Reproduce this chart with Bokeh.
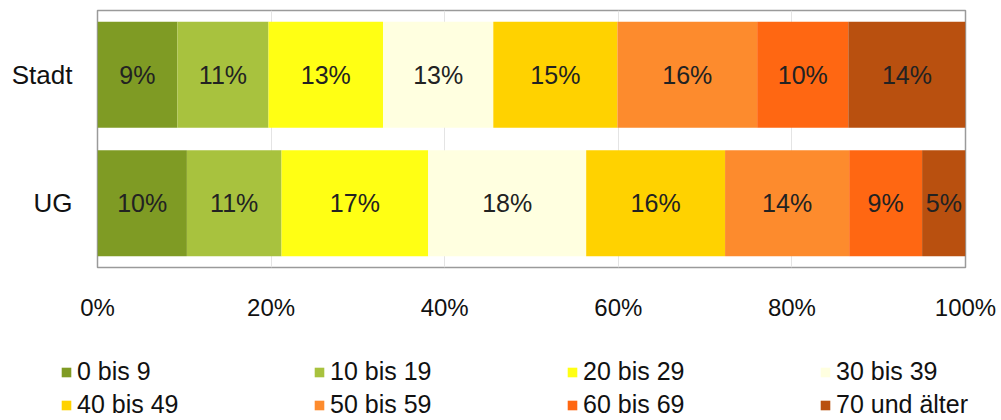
from bokeh.plotting import figure
from bokeh.layouts import column, row
from bokeh.models import ColumnDataSource, Legend, LegendItem, FixedTicker, Range1d, FactorRange
from bokeh.embed import file_html
from bokeh.resources import INLINE
from bokeh.core.properties import value

# ---- data ----
categories = ["UG", "Stadt"]
age_groups = ["0 bis 9", "10 bis 19", "20 bis 29", "30 bis 39",
              "40 bis 49", "50 bis 59", "60 bis 69", "70 und älter"]
stadt_values = [9.2, 10.5, 13.2, 12.7, 14.3, 16.1, 10.5, 13.5]
ug_values = [10.3, 10.9, 16.9, 18.2, 16.0, 14.3, 8.4, 5.0]
stadt_labels = ["9%", "11%", "13%", "13%", "15%", "16%", "10%", "14%"]
ug_labels = ["10%", "11%", "17%", "18%", "16%", "14%", "9%", "5%"]
colors = ["#7f9b24", "#a8c23e", "#ffff14", "#ffffe0",
          "#ffd200", "#fd8b2d", "#ff6712", "#b9500f"]
x_ticks = [0, 20, 40, 60, 80, 100]
x_tick_labels = ["0%", "20%", "40%", "60%", "80%", "100%"]

FONT = "Liberation Sans"

keys = [f"g{i}" for i in range(len(age_groups))]
data = {"cat": categories}
for i, k in enumerate(keys):
    data[k] = [ug_values[i], stadt_values[i]]
src = ColumnDataSource(data)

p = figure(width=1001, height=330, output_backend="svg", toolbar_location=None,
           y_range=FactorRange(*categories, range_padding=0), x_range=Range1d(0, 100),
           min_border_left=97, min_border_right=36, min_border_top=10, min_border_bottom=63)

renderers = p.hbar_stack(keys, y="cat", height=0.825, color=colors, line_color=None, source=src)

# segment labels
lx, ly, lt = [], [], []
for cat, vals, labs in (("Stadt", stadt_values, stadt_labels), ("UG", ug_values, ug_labels)):
    left = 0.0
    for v, t in zip(vals, labs):
        lx.append(left + v / 2)
        ly.append(cat)
        lt.append(t)
        left += v
lsrc = ColumnDataSource(dict(x=lx, y=ly, t=lt))
p.text(x="x", y="y", text="t", source=lsrc, text_align="center", text_baseline="middle",
       text_font=value(FONT), text_font_size="25px", text_color="#222222")

# axes
p.xaxis.ticker = FixedTicker(ticks=x_ticks)
p.xaxis.major_label_overrides = {t: l for t, l in zip(x_ticks, x_tick_labels)}
for ax in (p.xaxis[0], p.yaxis[0]):
    ax.axis_line_color = None
    ax.major_tick_line_color = None
    ax.minor_tick_line_color = None
    ax.major_label_text_font = FONT
    ax.major_label_text_color = "#111111"
p.xaxis.major_label_text_font_size = "24px"
p.yaxis.major_label_text_font_size = "26px"
p.xaxis.major_label_standoff = 20
p.yaxis.major_label_standoff = 19

p.xgrid.ticker = FixedTicker(ticks=x_ticks)
p.xgrid.grid_line_color = "#e4e4e4"
p.ygrid.grid_line_color = None
p.outline_line_color = "#9a9a9a"
p.outline_line_width = 1.5

# ---- legend figure ----
lg = figure(width=1001, height=90, output_backend="svg", toolbar_location=None,
            x_range=Range1d(0, 1), y_range=Range1d(0, 1),
            min_border=0, min_border_left=0, min_border_right=0,
            min_border_top=0, min_border_bottom=0)
lg.axis.visible = False
lg.grid.visible = False
lg.outline_line_color = None
dummy = [lg.hbar(y=[-5], left=[-5], right=[-4], height=0.5, color=c, line_color=None)
         for c in colors]

items = [LegendItem(label=g, renderers=[r]) for g, r in zip(age_groups, dummy)]
legend = Legend(items=items, location=(60, 1), orientation="horizontal", ncols=4,
                glyph_width=12, glyph_height=12, label_standoff=5, label_width=232,
                label_height=27, spacing=4, padding=0, margin=0, border_line_color=None,
                background_fill_alpha=0, label_text_font=FONT, label_text_font_size="25px",
                label_text_color="#111111", label_text_baseline="middle")
lg.add_layout(legend, "center")

layout = column(p, row(lg, spacing=0), spacing=0)
open("out.html", "w").write(file_html(layout, INLINE))
